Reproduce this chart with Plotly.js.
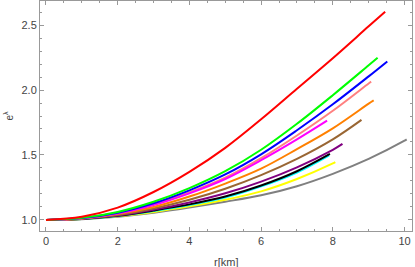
<!DOCTYPE html>
<html>
<head>
<meta charset="utf-8">
<script src="https://cdn.plot.ly/plotly-3.0.1.min.js"></script>
<style>html,body{margin:0;padding:0;background:#fff;}#chart{width:415px;height:267px;}</style>
</head>
<body>
<div id="chart"></div>
<script>
// r [km] sample positions and e^lambda values
const rRed     = [0, 1, 2, 3, 4, 5, 6, 7, 8, 9, 9.46];
const vRed     = [1, 1.025, 1.095, 1.215, 1.37, 1.555, 1.775, 2.01, 2.245, 2.49, 2.602];
const rGreen   = [0, 1, 2, 3, 4, 5, 6, 7, 8, 9, 9.25];
const vGreen   = [1, 1.016, 1.062, 1.14, 1.245, 1.375, 1.54, 1.74, 1.96, 2.19, 2.248];
const rBlue    = [0, 1, 2, 3, 4, 5, 6, 7, 8, 9, 9.52];
const vBlue    = [1, 1.015, 1.056, 1.128, 1.228, 1.35, 1.505, 1.69, 1.89, 2.105, 2.22];
const rPink    = [0, 1, 2, 3, 4, 5, 6, 7, 8, 9, 9.07];
const vPink    = [1, 1.014, 1.052, 1.12, 1.212, 1.325, 1.475, 1.65, 1.84, 2.05, 2.064];
const rMagenta = [0, 1, 2, 3, 4, 5, 6, 7, 7.84];
const vMagenta = [1, 1.014, 1.05, 1.115, 1.205, 1.315, 1.46, 1.62, 1.764];
const rOrange  = [0, 1, 2, 3, 4, 5, 6, 7, 8, 9, 9.14];
const vOrange  = [1, 1.012, 1.045, 1.1, 1.18, 1.28, 1.395, 1.545, 1.705, 1.895, 1.92];
const rBrown   = [0, 1, 2, 3, 4, 5, 6, 7, 8, 8.8];
const vBrown   = [1, 1.01, 1.038, 1.088, 1.155, 1.24, 1.345, 1.47, 1.62, 1.77];
const rPurple  = [0, 1, 2, 3, 4, 5, 6, 7, 8, 8.27];
const vPurple  = [1, 1.009, 1.034, 1.078, 1.135, 1.205, 1.295, 1.405, 1.54, 1.585];
const rCyan    = [0, 1, 2, 3, 4, 5, 6, 7, 7.9];
const vCyan    = [1, 1.008, 1.03, 1.068, 1.115, 1.172, 1.258, 1.365, 1.497];
const rBlack   = [0, 1, 2, 3, 4, 5, 6, 7, 7.92];
const vBlack   = [1, 1.008, 1.032, 1.073, 1.12, 1.18, 1.265, 1.375, 1.508];
const rYellow  = [0, 1, 2, 3, 4, 5, 6, 7, 8, 8.07];
const vYellow  = [1, 1.007, 1.028, 1.062, 1.105, 1.155, 1.22, 1.315, 1.435, 1.445];
const rGray    = [0, 1, 2, 3, 4, 5, 6, 7, 8, 9, 10, 10.06];
const vGray    = [1, 1.006, 1.024, 1.055, 1.095, 1.14, 1.19, 1.26, 1.355, 1.47, 1.61, 1.62];

const series = [
  {r: rGray, v: vGray, c: '#808080'},
  {r: rYellow, v: vYellow, c: '#ffff00'},
  {r: rCyan, v: vCyan, c: '#00ffff'},
  {r: rBlack, v: vBlack, c: '#000000'},
  {r: rPurple, v: vPurple, c: '#800080'},
  {r: rBrown, v: vBrown, c: '#996633'},
  {r: rOrange, v: vOrange, c: '#ff8000'},
  {r: rPink, v: vPink, c: '#ff8080'},
  {r: rMagenta, v: vMagenta, c: '#ff00ff'},
  {r: rBlue, v: vBlue, c: '#0000ff'},
  {r: rGreen, v: vGreen, c: '#00ff00'},
  {r: rRed, v: vRed, c: '#ff0000'}
];

const traces = series.map(s => ({
  x: s.r, y: s.v, type: 'scatter', mode: 'lines',
  line: {color: s.c, width: 2, shape: 'spline', smoothing: 1},
  hoverinfo: 'skip', showlegend: false
}));

const font = 'Liberation Sans, Arial, sans-serif';
const axisCommon = {
  showline: true, linecolor: '#999', linewidth: 1, mirror: 'allticks',
  ticks: 'inside', tickcolor: '#999', ticklen: 4, tickwidth: 1,
  showgrid: false, zeroline: false,
  tickfont: {family: font, size: 11, color: '#444'}
};

const layout = {
  width: 415, height: 267,
  margin: {l: 40, r: 3, t: 1, b: 36},
  paper_bgcolor: '#fff', plot_bgcolor: '#fff',
  xaxis: Object.assign({}, axisCommon, {
    range: [-0.167, 10.209], tickvals: [0, 2, 4, 6, 8, 10], ticktext: ['0','2','4','6','8','10'],
    minor: {tickvals: [0.5,1,1.5,2.5,3,3.5,4.5,5,5.5,6.5,7,7.5,8.5,9,9.5], ticks: 'inside', ticklen: 2, tickcolor: '#999', showgrid: false}
  }),
  yaxis: Object.assign({}, axisCommon, {
    range: [0.915, 2.685], tickvals: [1.0, 1.5, 2.0, 2.5], ticktext: ['1.0','1.5','2.0','2.5'],
    minor: {dtick: 0.1, tick0: 0, ticks: 'inside', ticklen: 2, tickcolor: '#999', showgrid: false},
    title: {text: 'e<sup>λ</sup>', font: {family: font, size: 10, color: '#444'}, standoff: 6}
  }),
  annotations: [{
    text: 'r[km]', xref: 'paper', yref: 'paper', x: 0.5, y: 0,
    xanchor: 'center', yanchor: 'top', yshift: -23, showarrow: false,
    font: {family: font, size: 11, color: '#444'}
  }]
};

Plotly.newPlot('chart', traces, layout, {displayModeBar: false, staticPlot: true});
</script>
</body>
</html>
